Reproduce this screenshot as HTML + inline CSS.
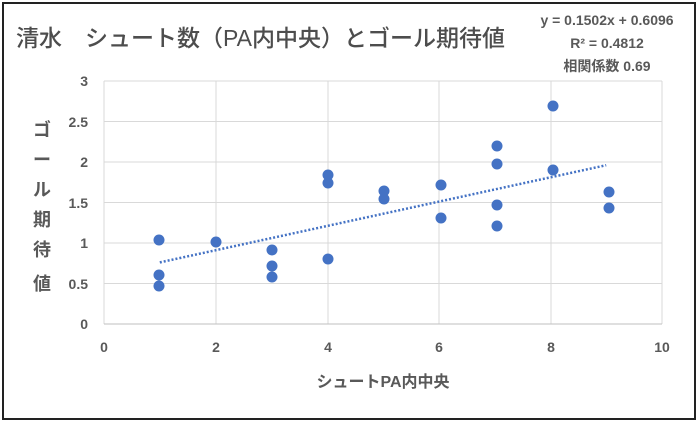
<!DOCTYPE html><html><head><meta charset="utf-8"><style>body{margin:0;background:#fff}svg{display:block}</style></head><body>
<svg width="700" height="423" viewBox="0 0 700 423" xmlns="http://www.w3.org/2000/svg" font-family="Liberation Sans, Noto Sans CJK JP, sans-serif">
<rect x="0" y="0" width="700" height="423" fill="#fff"/>
<rect x="3" y="3" width="692" height="416" fill="none" stroke="#222" stroke-width="2"/>
<g stroke="#d9d9d9" stroke-width="1">
<line x1="104" y1="81" x2="662" y2="81"/><line x1="104" y1="121.5" x2="662" y2="121.5"/><line x1="104" y1="162" x2="662" y2="162"/><line x1="104" y1="202.5" x2="662" y2="202.5"/><line x1="104" y1="243" x2="662" y2="243"/><line x1="104" y1="283.5" x2="662" y2="283.5"/>
<line x1="104" y1="81" x2="104" y2="324"/><line x1="216" y1="81" x2="216" y2="324"/><line x1="328" y1="81" x2="328" y2="324"/><line x1="439" y1="81" x2="439" y2="324"/><line x1="551" y1="81" x2="551" y2="324"/><line x1="662" y1="81" x2="662" y2="324"/>
</g>
<line x1="104" y1="324" x2="662" y2="324" stroke="#bfbfbf"/>
<g font-size="14" font-weight="bold" fill="#595959" text-anchor="end">
<text x="88" y="86">3</text><text x="88" y="127">2.5</text><text x="88" y="167">2</text><text x="88" y="208">1.5</text><text x="88" y="248">1</text><text x="88" y="289">0.5</text><text x="88" y="329">0</text></g>
<g font-size="14" font-weight="bold" fill="#595959" text-anchor="middle">
<text x="104" y="352">0</text><text x="216" y="352">2</text><text x="328" y="352">4</text><text x="439" y="352">6</text><text x="551" y="352">8</text><text x="662" y="352">10</text></g>
<text x="16" y="46" font-size="23" font-weight="500" fill="#4d4d4d">清水　シュート数（PA内中央）とゴール期待値</text>
<g font-size="14" font-weight="bold" fill="#595959" text-anchor="middle">
<text x="607" y="25">y = 0.1502x + 0.6096</text><text x="607" y="48">R² = 0.4812</text><text x="607" y="71">相関係数 0.69</text>
<text x="383" y="387" font-size="16">シュートPA内中央</text>
<text x="42" y="136" font-size="18">ゴ</text><text x="42" y="166" font-size="18">ー</text><text x="42" y="196" font-size="18">ル</text><text x="42" y="226" font-size="18">期</text><text x="42" y="256" font-size="18">待</text><text x="42" y="290" font-size="18">値</text>
</g>
<line x1="159.8" y1="262.4" x2="606.2" y2="165.2" stroke="#4472c4" stroke-width="2.5" stroke-dasharray="2,2"/>
<g fill="#4472c4">
<circle cx="159" cy="240" r="5.5"/><circle cx="159" cy="275" r="5.5"/><circle cx="159" cy="286" r="5.5"/><circle cx="216" cy="242" r="5.5"/>
<circle cx="272" cy="250" r="5.5"/><circle cx="272" cy="266" r="5.5"/><circle cx="272" cy="277" r="5.5"/>
<circle cx="328" cy="175" r="5.5"/><circle cx="328" cy="183" r="5.5"/><circle cx="328" cy="259" r="5.5"/>
<circle cx="384" cy="191" r="5.5"/><circle cx="384" cy="199" r="5.5"/>
<circle cx="441" cy="185" r="5.5"/><circle cx="441" cy="218" r="5.5"/>
<circle cx="497" cy="146" r="5.5"/><circle cx="497" cy="164" r="5.5"/><circle cx="497" cy="205" r="5.5"/><circle cx="497" cy="226" r="5.5"/>
<circle cx="553" cy="106" r="5.5"/><circle cx="553" cy="170" r="5.5"/>
<circle cx="609" cy="192" r="5.5"/><circle cx="609" cy="208" r="5.5"/>
</g>
</svg></body></html>
